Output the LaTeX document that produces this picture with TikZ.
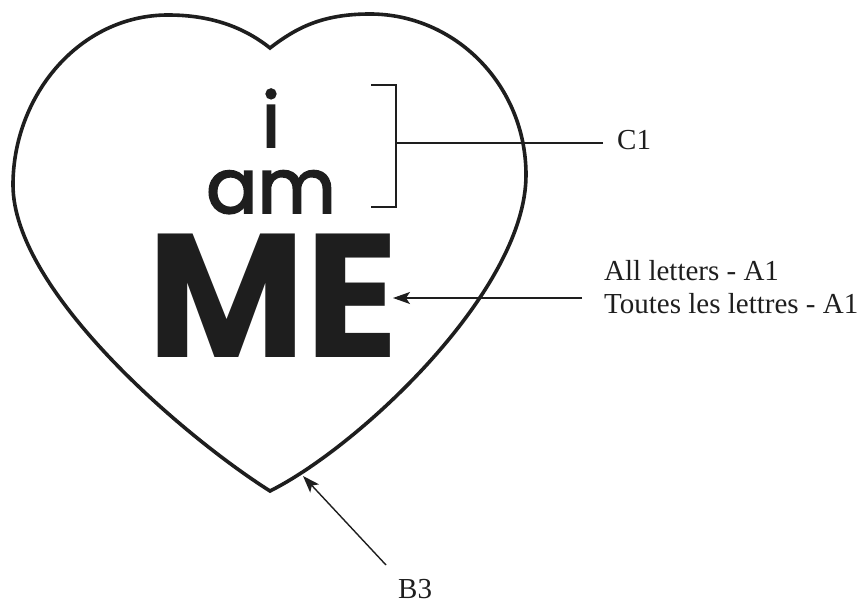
\documentclass[tikz,border=0pt]{standalone}
\usepackage{fontspec}
\setmainfont{Liberation Serif}
\newfontfamily\popfont{Poppins}
\newfontfamily\popmed{Poppins}[FakeBold=2.5]
\usetikzlibrary{arrows.meta}
\definecolor{ink}{RGB}{30,30,30}
\begin{document}
\begin{tikzpicture}[x=1pt,y=-1pt,
  heartline/.style={draw=ink,line width=3.6pt,line join=miter},
  leader/.style={draw=ink,line width=1.4pt},
  pointer/.style={leader,-{Stealth[length=17pt,width=12pt,inset=4pt]}},
  lbl/.style={text=ink,inner sep=0pt,font=\fontsize{29}{33}\selectfont},
  bigtxt/.style={text=ink,inner sep=0pt,anchor=base}]
\useasboundingbox (0,0) rectangle (868,601);
% heart
\coordinate (notch) at (270,48);
\coordinate (ltop) at (168,15);
\coordinate (lext) at (13,185);
\coordinate (bot) at (270,491);
\coordinate (rext) at (526,175);
\coordinate (rtop) at (370,14);
\draw[heartline] (notch) .. controls (240,24) and (205,15) .. (ltop)
  .. controls (80,15) and (13,95) .. (lext)
  .. controls (13,290) and (183,436) .. (bot)
  .. controls (360,446) and (526,290) .. (rext)
  .. controls (526,85) and (455,14) .. (rtop)
  .. controls (322,14) and (296,28) .. (notch) -- cycle;
% texts
\node[bigtxt,align=center,font=\popmed\fontsize{76}{66}\selectfont] (tiam) at (271,213) {i\\am};
\node[bigtxt,xscale=0.98,font=\popfont\bfseries\fontsize{176}{176}\selectfont] (tme) at (273,358) {ME};
% bracket C1
\coordinate (bt1) at (371,85);
\coordinate (bt2) at (396,85);
\coordinate (bb2) at (396,207);
\coordinate (bb1) at (371,207);
\coordinate (bm) at (396,143);
\draw[leader] (bt1) -- (bt2) -- (bb2) -- (bb1);
\node[lbl,anchor=base west] (c1) at (617,150) {C1};
\coordinate (c1t) at (603,143);
\draw[leader] (c1t) -- (bm);
% A1
\node[lbl,anchor=base west] (a1a) at (604,281) {All letters - A1};
\node[lbl,anchor=base west] (a1b) at (604,314) {Toutes les lettres - A1};
\coordinate (a1t) at (582,298);
\coordinate (a1h) at (393,298);
\draw[pointer] (a1t) -- (a1h);
% B3
\node[lbl,anchor=base west] (b3) at (398,598) {B3};
\coordinate (b3t) at (386,565);
\coordinate (b3h) at (303,476);
\draw[pointer] (b3t) -- (b3h);
\end{tikzpicture}
\end{document}
